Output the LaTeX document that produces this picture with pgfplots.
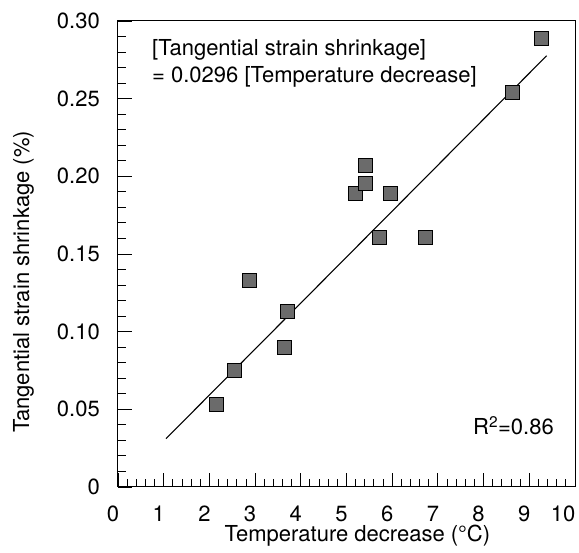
\documentclass[border=0pt]{standalone}
\usepackage{pgfplots}
\pgfplotsset{compat=1.18}
\usepackage{fontspec}
\setmainfont{TeX Gyre Heros}
\begin{document}
\fontsize{22}{26}\selectfont
\begin{tikzpicture}
\begin{axis}[
  scale only axis,
  width=457pt, height=466pt,
  xmin=0, xmax=10, ymin=0, ymax=0.30,
  axis line style={line width=1pt},
  tick align=inside,
  xtick pos=left, ytick pos=left,
  xtick={0,1,...,10},
  xticklabels={\hspace*{-10pt}0,\hspace*{-10pt}1,\hspace*{-10pt}2,\hspace*{-10pt}3,\hspace*{-10pt}4,\hspace*{-10pt}5,\hspace*{-10pt}6,\hspace*{-10pt}7,\hspace*{-10pt}8,\hspace*{-10pt}9,\hspace*{-24pt}10},
  ytick={0,0.05,0.10,0.15,0.20,0.25,0.30},
  yticklabels={0,0.05,0.10,0.15,0.20,0.25,0.30},
  minor x tick num=4, minor y tick num=4,
  major tick length=14pt, minor tick length=8pt,
  tick style={line width=0.9pt, black},
  xticklabel shift=19pt,
  xticklabel style={anchor=north, inner sep=0pt},
  yticklabel style={anchor=east, inner sep=0pt, xshift=-18pt},
  xlabel={Temperature decrease (\textdegree C)},
  ylabel={Tangential strain shrinkage (\%)},
  xlabel style={at={(axis description cs:0.524,0)}, anchor=base, yshift=-55pt, inner sep=0pt},
  ylabel style={at={(axis description cs:-0.1947,0.44)}, anchor=base, rotate=0, inner sep=0pt},
  clip=false,
]
\addplot[black, line width=1.1pt] coordinates {(1.05,0.03108) (9.38,0.27765)};
\addplot[only marks, mark=square*, mark size=7pt,
  mark options={fill=black!58, draw=black, line width=0.8pt}] coordinates {
  (2.16,0.0534) (2.54,0.0753) (2.87,0.133) (3.65,0.090) (3.71,0.113)
  (5.19,0.1887) (5.42,0.1955) (5.42,0.207) (5.97,0.1887) (5.73,0.161)
  (6.72,0.161) (8.63,0.254) (9.26,0.2885)};
\node[anchor=base west, inner sep=0pt] at (axis description cs:0.0744,0.926) {[Tangential strain shrinkage]};
\node[anchor=base west, inner sep=0pt] at (axis description cs:0.0744,0.869) {= 0.0296 [Temperature decrease]};
\node[anchor=base east, inner sep=0pt] at (axis description cs:0.954,0.1116) {R\textsuperscript{2}=0.86};
\end{axis}
\pgfresetboundingbox
\path[use as bounding box] ([shift={(-118pt,-66pt)}]current axis.south west) rectangle ([shift={(4pt,21pt)}]current axis.north east);
\end{tikzpicture}
\end{document}
